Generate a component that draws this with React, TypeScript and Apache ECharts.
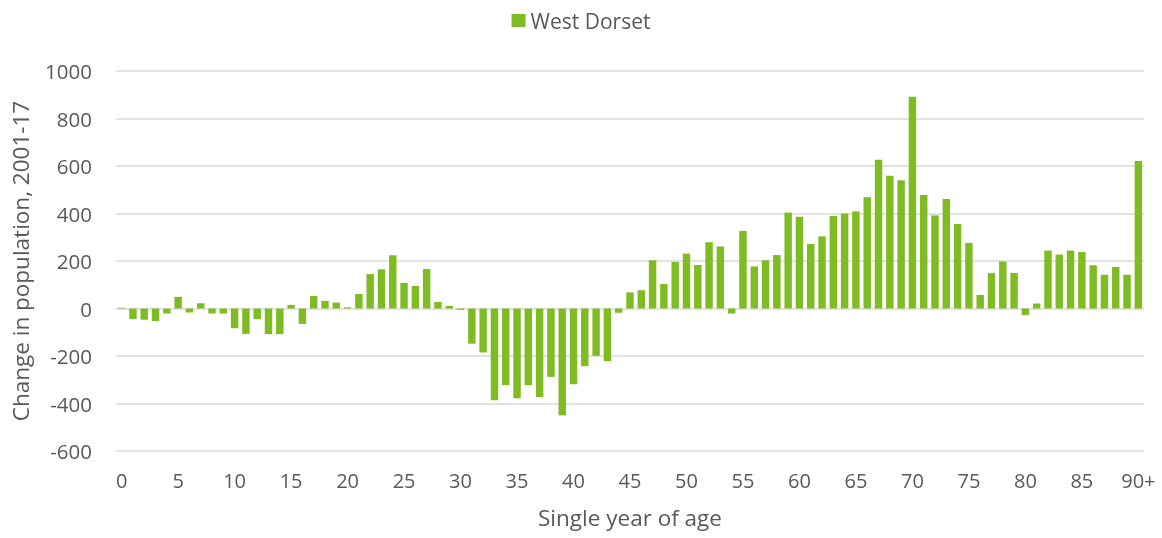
import React, { useEffect, useRef } from "react";
import * as echarts from "echarts";

const ages: string[] = [];
for (let i = 0; i < 90; i++) ages.push(String(i));
ages.push("90+");

const westDorset = [
  3, -44, -47, -53, -21, 49, -17, 22, -21, -21,
  -83, -107, -44, -108, -108, 15, -65, 53, 32, 25,
  5, 61, 145, 165, 224, 108, 95, 166, 28, 11,
  -6, -148, -185, -386, -322, -378, -323, -373, -288, -450,
  -319, -243, -199, -222, -18, 68, 77, 203, 103, 196,
  231, 183, 279, 261, -21, 327, 177, 203, 225, 404,
  386, 272, 304, 390, 400, 409, 469, 626, 559, 540,
  892, 478, 392, 461, 356, 276, 57, 149, 198, 150,
  -27, 21, 244, 227, 244, 238, 182, 142, 175, 142,
  621,
];

const seriesName = "West Dorset";
const yTitle = "Change in population, 2001-17";
const xTitle = "Single year of age";

export default function App() {
  const ref = useRef<HTMLDivElement>(null);
  useEffect(() => {
    if (!ref.current) return;
    const chart = echarts.init(ref.current, undefined, { renderer: "svg" });
    const font = "'Open Sans', 'Noto Sans', sans-serif";
    chart.setOption({
      animation: false,
      textStyle: { fontFamily: font },
      legend: {
        top: 5,
        left: "center",
        icon: "rect",
        itemWidth: 14,
        itemHeight: 13,
        itemGap: 6,
        textStyle: { color: "#595959", fontSize: 21, fontFamily: font },
        data: [seriesName],
      },
      grid: { left: 116, right: 18, top: 71, bottom: 87, containLabel: false },
      xAxis: {
        type: "category",
        data: ages,
        name: xTitle,
        nameLocation: "middle",
        nameGap: 55,
        nameTextStyle: { color: "#595959", fontSize: 22.5, fontFamily: font },
        axisLine: { show: false, onZero: false },
        axisTick: { show: false },
        axisLabel: {
          interval: 4,
          color: "#595959",
          fontSize: 20,
          margin: 19,
          fontFamily: font,
        },
      },
      yAxis: {
        type: "value",
        min: -600,
        max: 1000,
        interval: 200,
        name: yTitle,
        nameLocation: "middle",
        nameRotate: 90,
        nameGap: 84,
        nameTextStyle: { color: "#595959", fontSize: 22.5, fontFamily: font },
        axisLine: { show: false },
        axisTick: { show: false },
        axisLabel: {
          color: "#595959",
          fontSize: 20.5,
          margin: 24,
          fontFamily: font,
          formatter: (v: number) => String(v),
        },
        splitLine: { lineStyle: { color: "#d9d9d9", width: 1.5 } },
      },
      series: [
        {
          name: seriesName,
          type: "bar",
          data: westDorset,
          barCategoryGap: "34%",
          itemStyle: { color: "#7fbb23" },
        },
      ],
    });
    return () => chart.dispose();
  }, []);
  return (
    <div
      ref={ref}
      style={{ position: "fixed", left: 0, top: 0, width: 1162, height: 538 }}
    />
  );
}
